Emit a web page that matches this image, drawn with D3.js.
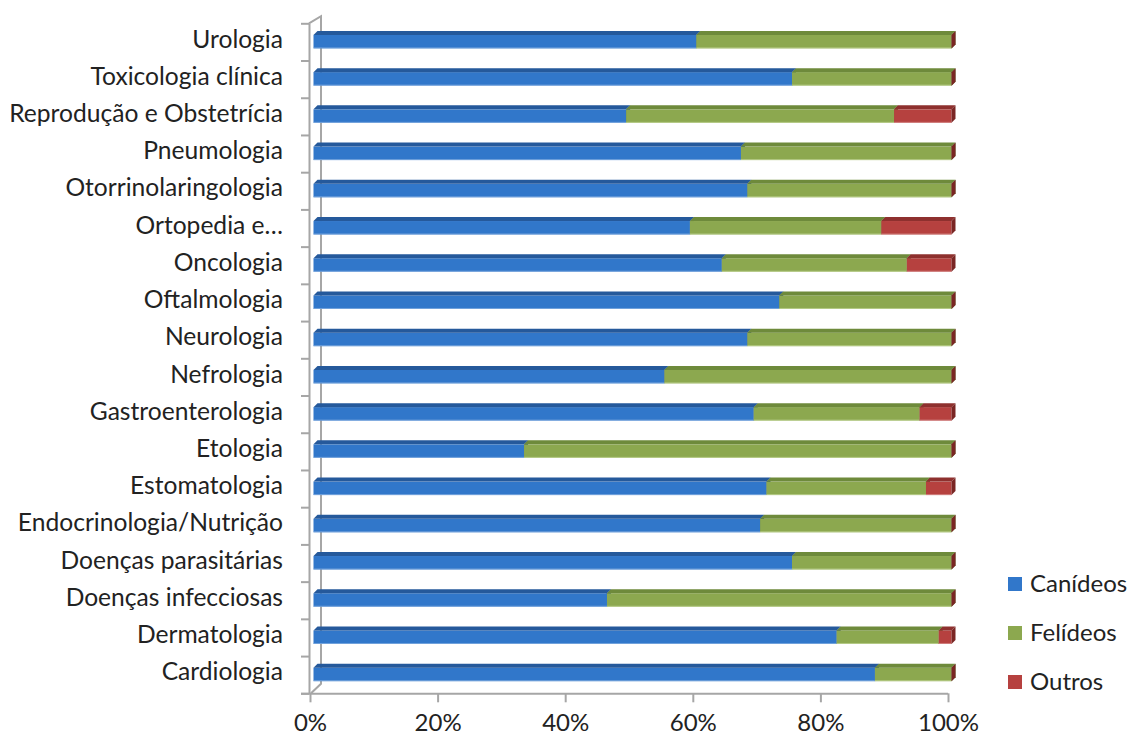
<!DOCTYPE html>
<html>
<head>
<meta charset="utf-8">
<script src="https://cdn.jsdelivr.net/npm/d3@7"></script>
<style>
  html, body { margin: 0; padding: 0; background: #fff; }
  svg { display: block; }
  text { font-family: Lato, "Open Sans", sans-serif; fill: #222; }
</style>
</head>
<body>
<svg id="chart" width="1130" height="740"></svg>
<script>
// Especialidades (de baixo para cima, como no eixo)
const categories = [
  "Cardiologia", "Dermatologia", "Doenças infecciosas", "Doenças parasitárias",
  "Endocrinologia/Nutrição", "Estomatologia", "Etologia", "Gastroenterologia",
  "Nefrologia", "Neurologia", "Oftalmologia", "Oncologia", "Ortopedia e…",
  "Otorrinolaringologia", "Pneumologia", "Reprodução e Obstetrícia",
  "Toxicologia clínica", "Urologia"
];
// Percentagem de casos por espécie
const caninos = [88, 82, 46, 75, 70, 71, 33, 69, 55, 68, 73, 64, 59, 68, 67, 49, 75, 60];
const felinos = [12, 16, 54, 25, 30, 25, 67, 26, 45, 32, 27, 29, 30, 32, 33, 42, 25, 40];
const outros  = [ 0,  2,  0,  0,  0,  4,  0,  5,  0,  0,  0,  7, 11,  0,  0,  9,  0,  0];
const seriesNames = ["Canídeos", "Felídeos", "Outros"];
const xTicks = [0, 0.2, 0.4, 0.6, 0.8, 1];

const palette = {
  "Canídeos": { front: "#3177CA", top: "#25599B", side: "#1F4C85", edge: "#8DB3E2" },
  "Felídeos": { front: "#8CA84F", top: "#6E8A3B", side: "#5D7631", edge: "#C4D79B" },
  "Outros":   { front: "#B6413F", top: "#8E302E", side: "#7A2624", edge: "#DA9694" }
};

const rows = categories.map((c, i) => ({
  cat: c, "Canídeos": caninos[i], "Felídeos": felinos[i], "Outros": outros[i]
}));

const svg = d3.select("#chart");
const labelSize = 24.6;
const fontSize = 24;

const x = d3.scaleLinear().domain([0, 1]).range([310, 948]);
const yTop = 23.3, yBottom = 693.3;
const y = d3.scaleBand().domain(categories.slice().reverse()).range([yTop, yBottom]).padding(0);
const yBound = d3.scaleLinear().domain([0, categories.length]).range([yBottom, yTop]);

// 3D frame: back wall edge and the connecting diagonals
const depthX = 12, depthY = 9.5;
const frame = svg.append("g").attr("stroke", "#A6A6A6").attr("stroke-width", 2).attr("fill", "none");
frame.append("path").attr("d", d3.line()([
  [x(0) - 1, yTop], [x(0) - 1 + depthX, yTop - depthY * 0.75],
  [x(0) - 1 + depthX, yBottom - depthY], [x(0) + 1, yBottom]
]));

// Left (category) axis line with separators
const leftAxis = svg.append("g")
  .attr("transform", `translate(${x(0) - 1},0)`)
  .call(d3.axisLeft(yBound).tickValues(d3.range(0, categories.length + 1)).tickSize(8).tickSizeOuter(0).tickFormat(""));
leftAxis.selectAll("path, line").attr("stroke", "#A6A6A6").attr("stroke-width", 2);

// Bottom (percentage) axis
const bottomAxis = svg.append("g")
  .attr("transform", `translate(0,${yBottom})`)
  .call(d3.axisBottom(x).tickValues(xTicks).tickFormat(d3.format(".0%")).tickSize(9).tickSizeOuter(0).tickPadding(12));
bottomAxis.select(".domain").attr("d", `M${x(0) - 9},0.5H${x(1)}`);
bottomAxis.selectAll("path, line").attr("stroke", "#A6A6A6").attr("stroke-width", 2);
bottomAxis.selectAll("text").attr("font-size", fontSize).attr("font-family", "Lato, sans-serif").attr("fill", "#222");

// Category labels
svg.append("g").selectAll("text")
  .data(categories)
  .join("text")
  .attr("x", 283)
  .attr("y", d => y(d) + y.bandwidth() / 2 - 3)
  .attr("dy", "0.35em")
  .attr("text-anchor", "end")
  .attr("font-size", labelSize)
  .text(d => d);

// Stacked 3D bars
const stack = d3.stack().keys(seriesNames).offset(d3.stackOffsetExpand);
const stacked = stack(rows);
const xb = v => x(v) + 3.5;
const d = 4;
const frontH = 13.5;

const barG = svg.append("g");
stacked.forEach(layer => {
  const col = palette[layer.key];
  const g = barG.append("g");
  layer.forEach(seg => {
    const cy = y(seg.data.cat) + y.bandwidth() / 2;
    const t = cy - 7, b = t + frontH;
    const x0 = xb(seg[0]), x1 = xb(seg[1]);
    // front face
    g.append("rect").attr("x", x0).attr("y", t).attr("width", Math.max(0, x1 - x0)).attr("height", frontH)
      .attr("fill", col.front);
    // lighter lower edge
    if (x1 - x0 > 0) {
      g.append("rect").attr("x", x0).attr("y", b - 1).attr("width", x1 - x0).attr("height", 1)
        .attr("fill", col.edge).attr("opacity", 0.7);
    }
    // top face
    g.append("path").attr("d", d3.line()([[x0, t], [x0 + d, t - d], [x1 + d, t - d], [x1, t]]))
      .attr("fill", col.top);
    // right end face
    g.append("path").attr("d", d3.line()([[x1, t], [x1 + d, t - d], [x1 + d, b - d], [x1, b]]))
      .attr("fill", col.side);
  });
});

// Legend
const legend = svg.append("g").attr("transform", "translate(1008,584)");
seriesNames.forEach((name, i) => {
  const item = legend.append("g").attr("transform", `translate(0,${i * 49})`);
  item.append("rect").attr("x", 0).attr("y", -7).attr("width", 14).attr("height", 14).attr("fill", palette[name].front);
  item.append("text").attr("x", 22).attr("y", 0).attr("dy", "0.35em").attr("font-size", fontSize).text(name);
});
</script>
</body>
</html>
